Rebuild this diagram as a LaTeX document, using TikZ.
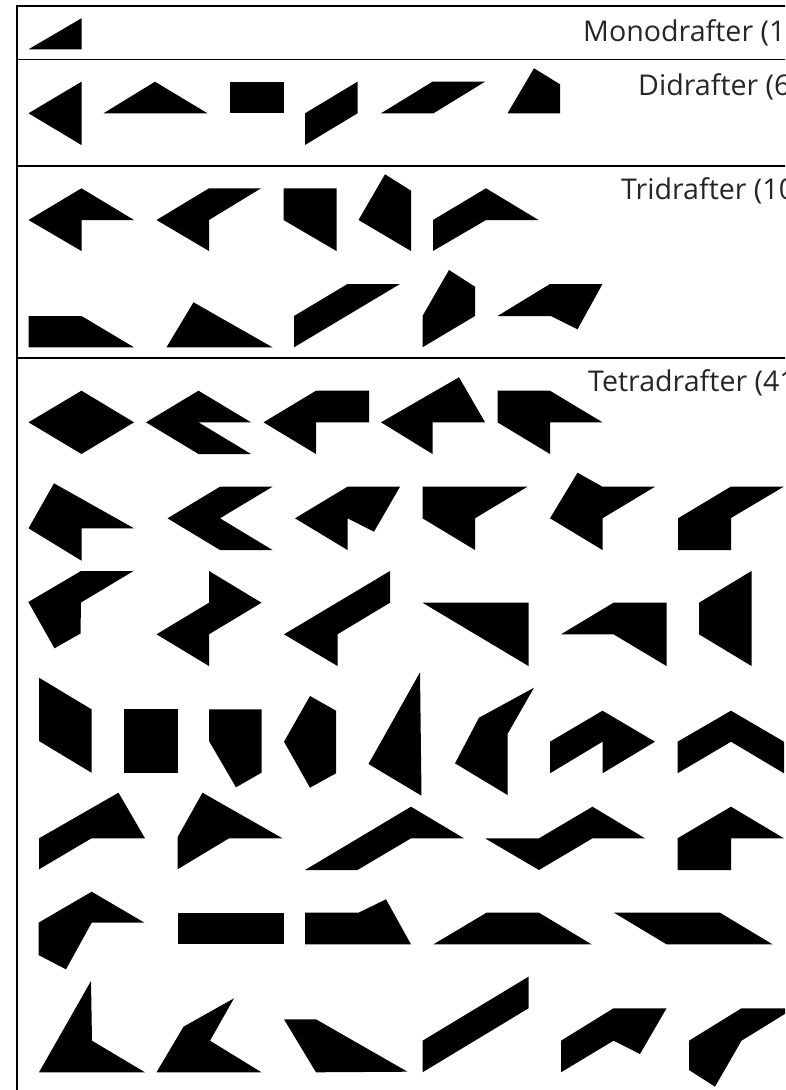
\documentclass[tikz,border=0pt]{standalone}
\usepackage{fontspec}
\setmainfont{Open Sans}
\begin{document}
\begin{tikzpicture}[x=1pt,y=-1pt,
  piece/.style={fill=black},
  frame/.style={line width=1.8pt,draw=black},
  lab/.style={anchor=base west,inner sep=0pt,font=\fontsize{28.6}{30}\selectfont,text=black!85}]
\useasboundingbox (0,0) rectangle (785,1090);
\clip (0,0) rectangle (785,1090);
% frame
\draw[frame] (17,6) -- (800,6);
\draw[frame] (17,59.5) -- (800,59.5);
\draw[frame] (17,166) -- (800,166);
\draw[frame] (17,358) -- (800,358);
\draw[frame] (17,5) -- (17,1095);
% labels
\node[lab] (mono) at (583,41.5) {Monodrafter (1)};
\node[lab] (di) at (638,95) {Didrafter (6)};
\node[lab] (tri) at (621,199) {Tridrafter (10)};
\node[lab] (tetra) at (588,391) {Tetradrafter (41)};
% monodrafter
\fill[piece] (28.5,49.3) -- (81.5,18.3) -- (81.5,49.3) -- cycle;
% didrafters
\fill[piece] (81.5,81.7) -- (28.5,113.3) -- (81.5,145) -- cycle;
\fill[piece] (103.5,113.3) -- (155,81.7) -- (207.5,113.3) -- cycle;
\fill[piece] (230,81.7) -- (283.5,81.7) -- (283.5,113.3) -- (230,113.3) -- cycle;
\fill[piece] (305,113.3) -- (357.5,81.7) -- (357.5,113.3) -- (305,145) -- cycle;
\fill[piece] (381,113.3) -- (432.5,81.7) -- (485,81.7) -- (433.5,113.3) -- cycle;
\fill[piece] (507.5,113.3) -- (534,68.3) -- (560,84.3) -- (560,113.3) -- cycle;
% tridrafters
\fill[piece] (81.5,188.3) -- (134,220) -- (81.5,220) -- (81.5,251) -- (28.5,220) -- cycle;
\fill[piece] (156.5,220) -- (209,188.3) -- (261,188.3) -- (209,220) -- (209,251) -- cycle;
\fill[piece] (283.5,188.3) -- (336.5,188.3) -- (336.5,251) -- (283.5,220) -- cycle;
\fill[piece] (358.5,220) -- (385,174.3) -- (411,190.7) -- (411,251) -- cycle;
\fill[piece] (433,220) -- (486,188.3) -- (538.5,220) -- (486,220) -- (433,251) -- cycle;
\fill[piece] (28.5,316) -- (81.5,316) -- (134,347.3) -- (28.5,347.3) -- cycle;
\fill[piece] (166.5,347.3) -- (193.5,302.3) -- (272.5,347.3) -- cycle;
\fill[piece] (294,316) -- (347.5,284) -- (400,284) -- (294,347.3) -- cycle;
\fill[piece] (422.5,347.3) -- (422.5,316) -- (449,270) -- (475,286.7) -- (475,316) -- cycle;
\fill[piece] (497.5,316) -- (550,284) -- (602.5,284) -- (577.5,329.3) -- (551,316) -- cycle;
% tetradrafters row 1
\fill[piece] (28.5,422.3) -- (81.5,390.7) -- (134,422.3) -- (81.5,454) -- cycle;
\fill[piece] (146,422.3) -- (198.5,390.7) -- (251,422.3) -- (198.5,422.3) -- (251,454) -- (198.5,454) -- cycle;
\fill[piece] (263.5,422.3) -- (316,390.7) -- (369,390.7) -- (369,422.3) -- (316,422.3) -- (316,454) -- cycle;
\fill[piece] (381,422.3) -- (459,377.3) -- (485,422.3) -- (432.5,422.3) -- (432.5,454) -- cycle;
\fill[piece] (497.5,390.7) -- (550,390.7) -- (602.5,422.3) -- (550,422.3) -- (550,454) -- (497.5,422.3) -- cycle;
% row 2
\fill[piece] (28.5,528.3) -- (54,483.3) -- (134,528.3) -- (81.5,528.3) -- (81.5,560.7) -- cycle;
\fill[piece] (167.5,518.3) -- (220,486.7) -- (272.5,486.7) -- (220,518.3) -- (272.5,550) -- (220,550) -- cycle;
\fill[piece] (295,518.3) -- (347.5,486.7) -- (400,486.7) -- (374,531.7) -- (347.5,518.3) -- (347.5,550) -- cycle;
\fill[piece] (422.5,486.7) -- (527.5,486.7) -- (475,518.3) -- (475,550) -- (422.5,518.3) -- cycle;
\fill[piece] (550,518.3) -- (577.5,472.7) -- (602.5,486.7) -- (655,486.7) -- (602.5,518.3) -- (602.5,550) -- cycle;
\fill[piece] (678,518.3) -- (731,486.5) -- (784,486.5) -- (731,518) -- (731,550) -- (678,550) -- cycle;
% row 3
\fill[piece] (81,571) -- (133.5,571) -- (81,602.5) -- (80.5,633.5) -- (54.5,648.3) -- (28.3,602) -- cycle;
\fill[piece] (209,571) -- (261.5,602.7) -- (209,634.3) -- (209,666) -- (156.5,634.3) -- (209,602.7) -- cycle;
\fill[piece] (390,571) -- (390,602.7) -- (337.5,634.3) -- (337.5,666) -- (284,634.3) -- cycle;
\fill[piece] (422.5,602.7) -- (528.5,602.7) -- (528.5,666) -- cycle;
\fill[piece] (561,634.3) -- (613.5,602.7) -- (666.5,602.7) -- (666.5,666) -- (613.5,634.3) -- cycle;
\fill[piece] (699,602.7) -- (751.5,571) -- (751.5,666) -- (699,634.3) -- cycle;
% row 4
\fill[piece] (39,677.7) -- (91.5,709.3) -- (91.5,772.7) -- (39,741) -- cycle;
\fill[piece] (124,709.3) -- (177.5,709.3) -- (177.5,772.7) -- (124,772.7) -- cycle;
\fill[piece] (209,709.3) -- (261.5,709.3) -- (261.5,772.7) -- (236,787.3) -- (209,741) -- cycle;
\fill[piece] (284,741.7) -- (310,696) -- (336,710.7) -- (336,773.3) -- (310,787.7) -- cycle;
\fill[piece] (368.5,764) -- (420,672.3) -- (421.5,795.7) -- cycle;
\fill[piece] (455,763.3) -- (479,717.7) -- (534,687.7) -- (507.5,734) -- (507.5,795) -- cycle;
\fill[piece] (550,741.7) -- (602.5,710.7) -- (655,741.7) -- (602.5,773.3) -- (602.5,741.7) -- (550,773.3) -- cycle;
\fill[piece] (677.5,741.7) -- (731,710.7) -- (784,741.7) -- (784,773.3) -- (731,741.7) -- (677.5,773.3) -- cycle;
% row 5
\fill[piece] (39,838.3) -- (118.5,792.7) -- (145,838.3) -- (91.5,838.3) -- (39,869.3) -- cycle;
\fill[piece] (177.5,837.3) -- (202.5,792.7) -- (282.5,838.3) -- (229,838.3) -- (177.5,869.3) -- cycle;
\fill[piece] (305,870) -- (411,806.7) -- (464,838.3) -- (411,838.3) -- (357.5,870) -- cycle;
\fill[piece] (485,838.3) -- (539,838.3) -- (592.5,806.7) -- (645,838.3) -- (592.5,838.3) -- (539,870) -- cycle;
\fill[piece] (677.5,838.3) -- (731,806.7) -- (784,838.3) -- (731,838.3) -- (731,870) -- (677.5,870) -- cycle;
% row 6
\fill[piece] (38.5,922.7) -- (91.7,891.7) -- (144.5,922.7) -- (91.7,922.7) -- (66,969.3) -- (38.5,955) -- cycle;
\fill[piece] (177.5,912.7) -- (283.5,912.7) -- (283.5,944.3) -- (177.5,944.3) -- cycle;
\fill[piece] (305,912.7) -- (358.5,912.7) -- (386,899.3) -- (411,944.3) -- (305,944.3) -- cycle;
\fill[piece] (433.5,944.3) -- (486.5,912.7) -- (539,912.7) -- (591.5,944.3) -- cycle;
\fill[piece] (614,912.7) -- (720,912.7) -- (772.5,944.3) -- (666.5,944.3) -- cycle;
% row 7
\fill[piece] (39,1072.3) -- (91,981) -- (92,1040.7) -- (145,1072.3) -- cycle;
\fill[piece] (156.5,1072.3) -- (183.5,1026.7) -- (234,998.3) -- (210,1040.7) -- (261.5,1072.3) -- cycle;
\fill[piece] (284,1019.3) -- (316,1019.3) -- (407.5,1071.7) -- (316,1072.3) -- cycle;
\fill[piece] (422.5,1040.7) -- (528.5,976.7) -- (528.5,1008.3) -- (422.5,1072.3) -- cycle;
\fill[piece] (561,1040.7) -- (613.5,1008.3) -- (666.5,1008.3) -- (640,1054) -- (613.5,1040.7) -- (561,1072.3) -- cycle;
\fill[piece] (689,1040.7) -- (741.5,1008.3) -- (794,1008.3) -- (741.5,1040.7) -- (715,1086.7) -- (689,1070) -- cycle;
\end{tikzpicture}
\end{document}
